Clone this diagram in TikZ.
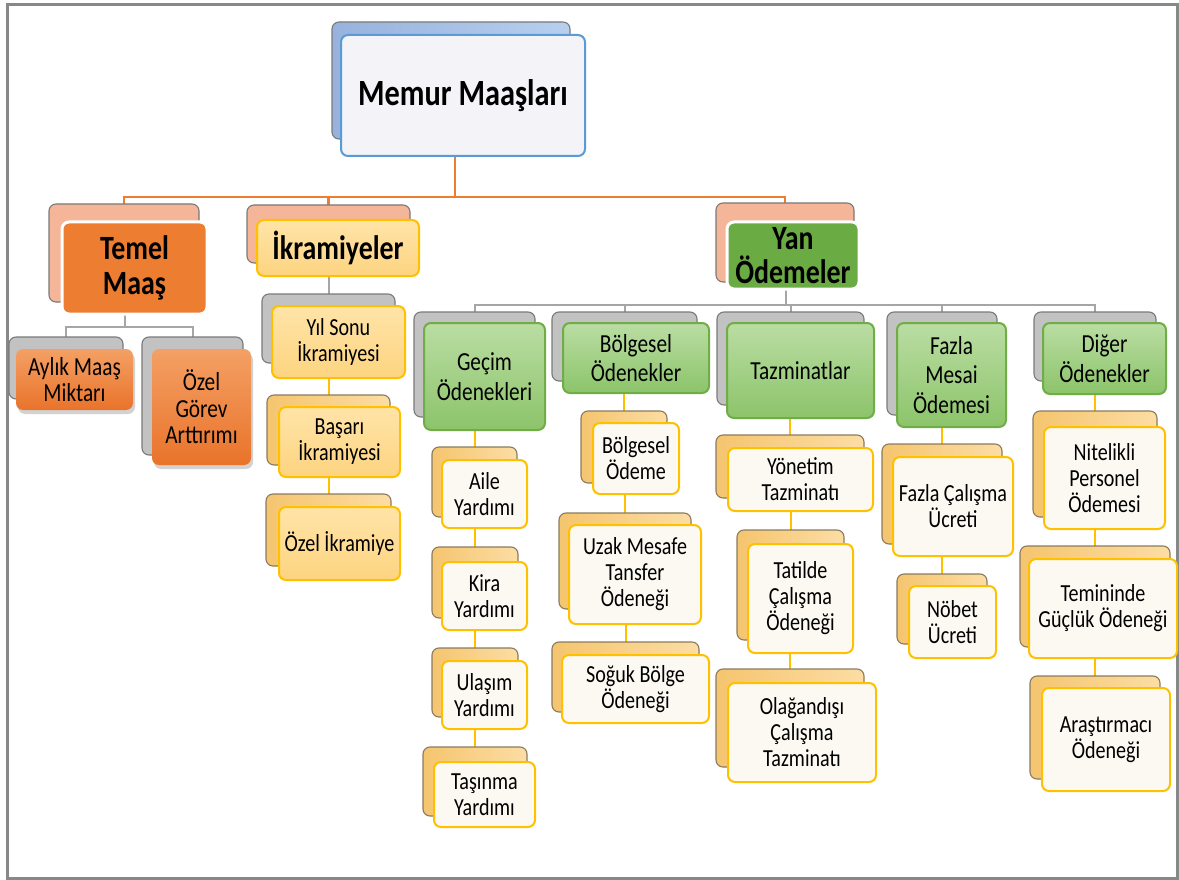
\documentclass[tikz,border=0pt]{standalone}
\usepackage{fontspec}
\setmainfont{Carlito}[FakeStretch=0.82]
\usetikzlibrary{fit,shadows,backgrounds}

\definecolor{framegray}{HTML}{888888}
\definecolor{lineorange}{HTML}{ED7D31}
\definecolor{linegray}{HTML}{A6A6A6}
\definecolor{linegold}{HTML}{FFC000}
\definecolor{edgedark}{HTML}{7A7A7A}
\definecolor{edgebrown}{HTML}{8A7B5E}
\definecolor{basegray}{HTML}{C2C2C2}
\definecolor{basesalmon}{HTML}{F5B599}
\definecolor{bluel}{HTML}{97B2DD}
\definecolor{bluer}{HTML}{B8CFEE}
\definecolor{sandl}{HTML}{F5C56F}
\definecolor{sandr}{HTML}{FCDDA4}
\definecolor{rootfill}{HTML}{F3F3F8}
\definecolor{rootedge}{HTML}{5B9BD5}
\definecolor{orangemain}{HTML}{ED7D31}
\definecolor{orangetop}{HTML}{F4A064}
\definecolor{orangebot}{HTML}{E9732B}
\definecolor{greenmain}{HTML}{6AAB44}
\definecolor{greentop}{HTML}{BADDA3}
\definecolor{greenbot}{HTML}{8CC46A}
\definecolor{greenedge}{HTML}{70AD47}
\definecolor{creamtop}{HTML}{FFE4A8}
\definecolor{creambot}{HTML}{FDD480}
\definecolor{paper}{HTML}{FBF9F2}

\tikzset{
  box/.style={inner sep=0pt, outer sep=0pt, rounded corners=7pt},
  % back plates
  backgray/.style={box, fill=basegray, draw=edgedark, line width=1.1pt},
  backsalmon/.style={box, fill=basesalmon, draw=edgedark, line width=1.1pt},
  backblue/.style={box, left color=bluel, right color=bluer, draw=edgedark, line width=1.1pt},
  backsand/.style={box, left color=sandl, right color=sandr, draw=edgebrown, line width=1.1pt},
  % front cards
  rootcard/.style={box, fill=rootfill, draw=rootedge, line width=2pt},
  bigorange/.style={box, fill=orangemain, draw=white, line width=3pt},
  biggreen/.style={box, fill=greenmain, draw=white, line width=3pt},
  bigcream/.style={box, top color=creamtop, bottom color=creambot, draw=linegold, line width=2pt},
  subcream/.style={box, top color=creamtop, bottom color=creambot, draw=linegold, line width=2pt},
  suborange/.style={box, top color=orangetop, bottom color=orangebot, draw=none,
    drop shadow={shadow xshift=2pt, shadow yshift=-4pt, opacity=0.35}},
  subgreen/.style={box, top color=greentop, bottom color=greenbot, draw=greenedge, line width=2pt},
  leaf/.style={box, fill=paper, draw=linegold, line width=2pt},
  % card texts
  lbl/.style={inner sep=0pt, align=center, text=black},
  rootfont/.style={lbl, font=\bfseries\fontsize{37}{40}\selectfont},
  headfont/.style={lbl, font=\bfseries\fontsize{34}{34.5}\selectfont},
  groupfont/.style={lbl, font=\fontsize{26}{29.5}\selectfont},
  basefont/.style={lbl, font=\fontsize{26}{26.5}\selectfont},
  itemfont/.style={lbl, font=\fontsize{24.5}{26}\selectfont},
  % connectors
  oline/.style={draw=lineorange, line width=2.5pt},
  gline/.style={draw=linegray, line width=2pt},
  yline/.style={draw=linegold, line width=2pt},
}

% a card resting on its back plate:
% name, plate style, plate corners, card style, card corners, text style, text
\newcommand\cardpair[7]{%
  \node[#2, fit={#3}] (#1b) {};
  \node[#4, fit={#5}] (#1) {};
  \node[#6] (#1t) at (#1.center) {#7};
}
% vertical link from a parent card down to a child plate
\newcommand\uplink[3]{\draw[#1] (#3b.north) -- (#3b.north |- #2.south);}

\begin{document}
\begin{tikzpicture}[x=1pt, y=-1pt]
\useasboundingbox (0,0) rectangle (1179,880);

\begin{scope}[on background layer]
  \fill[white] (0,0) rectangle (1179,880);
  \draw[framegray, line width=2.5pt] (7.5,4.5) rectangle (1177.5,878.5);
\end{scope}

% top level
\cardpair{root}{backblue}{(332,22) (570,139)}{rootcard}{(341,35) (585,156)}{rootfont}{Memur Maaşları}

% second level
\cardpair{temel}{backsalmon}{(49,204) (199,302)}{bigorange}{(62,222) (207,314)}{headfont}{Temel\\Maaş}
\cardpair{ikr}{backsalmon}{(247,205) (410,263)}{bigcream}{(257,220) (419,276)}{headfont}{İkramiyeler}
\cardpair{yan}{backsalmon}{(716,203) (854,282)}{biggreen}{(727,222) (859,289)}{headfont}{Yan\\Ödemeler}

% basic salary
\cardpair{aylik}{backgray}{(9,337) (123,399)}{suborange}{(16,349) (133,410)}{basefont}{Aylık Maaş\\Miktarı}
\cardpair{ozelg}{backgray}{(142,337) (243,455)}{suborange}{(152,349) (251,465)}{basefont}{Özel\\Görev\\Arttırımı}

% bonuses
\cardpair{ys}{backgray}{(262,294) (395,363)}{subcream}{(272,306) (405,378)}{itemfont}{Yıl Sonu\\İkramiyesi}
\cardpair{bas}{backsand}{(267,395) (390,465)}{subcream}{(279,407) (400,477)}{itemfont}{Başarı\\İkramiyesi}
\cardpair{ozi}{backsand}{(266,494) (391,566)}{subcream}{(279,507) (400,580)}{itemfont}{Özel İkramiye}

% allowance groups
\cardpair{gecim}{backgray}{(414,312) (535,417)}{subgreen}{(424,323) (545,430)}{groupfont}{Geçim\\Ödenekleri}
\cardpair{bolg}{backgray}{(552,312) (697,381)}{subgreen}{(563,323) (709,393)}{groupfont}{Bölgesel\\Ödenekler}
\cardpair{taz}{backgray}{(717,312) (864,405)}{subgreen}{(727,323) (874,418)}{groupfont}{Tazminatlar}
\cardpair{fazla}{backgray}{(887,312) (997,415)}{subgreen}{(897,323) (1006,427)}{groupfont}{Fazla\\Mesai\\Ödemesi}
\cardpair{diger}{backgray}{(1034,312) (1156,381)}{subgreen}{(1043,323) (1166,394)}{groupfont}{Diğer\\Ödenekler}

% living allowances
\cardpair{aile}{backsand}{(432,447) (517,517)}{leaf}{(442,460) (527,528)}{itemfont}{Aile\\Yardımı}
\cardpair{kira}{backsand}{(432,547) (518,618)}{leaf}{(442,562) (527,630)}{itemfont}{Kira\\Yardımı}
\cardpair{ulasim}{backsand}{(432,648) (518,717)}{leaf}{(442,661) (527,729)}{itemfont}{Ulaşım\\Yardımı}
\cardpair{tasinma}{backsand}{(423,747) (527,816)}{leaf}{(434,762) (535,827)}{itemfont}{Taşınma\\Yardımı}

% regional allowances
\cardpair{bode}{backsand}{(581,411) (667,483)}{leaf}{(593,423) (679,494)}{itemfont}{Bölgesel\\Ödeme}
\cardpair{uzak}{backsand}{(559,513) (691,609)}{leaf}{(569,525) (701,624)}{itemfont}{Uzak Mesafe\\Tansfer\\Ödeneği}
\cardpair{soguk}{backsand}{(552,642) (699,712)}{leaf}{(562,655) (709,723)}{itemfont}{Soğuk Bölge\\Ödeneği}

% compensations
\cardpair{yon}{backsand}{(716,435) (864,498)}{leaf}{(728,448) (873,511)}{itemfont}{Yönetim\\Tazminatı}
\cardpair{tatil}{backsand}{(737,530) (844,640)}{leaf}{(748,544) (853,653)}{itemfont}{Tatilde\\Çalışma\\Ödeneği}
\cardpair{olag}{backsand}{(716,669) (864,767)}{leaf}{(728,683) (876,782)}{itemfont}{Olağandışı\\Çalışma\\Tazminatı}

% overtime
\cardpair{fcal}{backsand}{(882,444) (1002,544)}{leaf}{(893,457) (1013,556)}{itemfont}{Fazla Çalışma\\Ücreti}
\cardpair{nobet}{backsand}{(897,574) (987,644)}{leaf}{(909,586) (996,658)}{itemfont}{Nöbet\\Ücreti}

% other allowances
\cardpair{nit}{backsand}{(1033,411) (1157,517)}{leaf}{(1044,427) (1165,529)}{itemfont}{Nitelikli\\Personel\\Ödemesi}
\cardpair{temin}{backsand}{(1020,546) (1170,647)}{leaf}{(1029,559) (1177,658)}{itemfont}{Temininde\\Güçlük Ödeneği}
\cardpair{arast}{backsand}{(1030,676) (1160,779)}{leaf}{(1042,688) (1170,791)}{itemfont}{Araştırmacı\\Ödeneği}

\begin{scope}[on background layer]
  % root to second level
  \coordinate (hub) at (455,197);
  \draw[oline] (hub |- root.south) -- (hub);
  \draw[oline] (temelb.north) |- (hub) -| (yanb.north);
  \draw[oline] (ikrb.north) -- (ikrb.north |- hub);
  % basic salary branch
  \coordinate (thub) at (125,327);
  \draw[gline] (thub |- temel.south) -- (thub);
  \draw[gline] (aylikb.north) |- (thub) -| (ozelgb.north);
  % bonus chain
  \uplink{gline}{ikr}{ys}
  \uplink{yline}{ys}{bas}
  \uplink{yline}{bas}{ozi}
  % allowance branch
  \coordinate (yhub) at (786,305);
  \draw[gline] (yhub |- yan.south) -- (yhub);
  \draw[gline] (gecimb.north) |- (yhub) -| (digerb.north);
  \draw[gline] (bolgb.north) -- (bolgb.north |- yhub);
  \draw[gline] (tazb.north) -- (tazb.north |- yhub);
  \draw[gline] (fazlab.north) -- (fazlab.north |- yhub);
  % columns
  \uplink{yline}{gecim}{aile}
  \uplink{yline}{aile}{kira}
  \uplink{yline}{kira}{ulasim}
  \uplink{yline}{ulasim}{tasinma}
  \uplink{yline}{bolg}{bode}
  \uplink{yline}{bode}{uzak}
  \uplink{yline}{uzak}{soguk}
  \uplink{yline}{taz}{yon}
  \uplink{yline}{yon}{tatil}
  \uplink{yline}{tatil}{olag}
  \uplink{yline}{fazla}{fcal}
  \uplink{yline}{fcal}{nobet}
  \uplink{yline}{diger}{nit}
  \uplink{yline}{nit}{temin}
  \uplink{yline}{temin}{arast}
\end{scope}
\end{tikzpicture}
\end{document}
